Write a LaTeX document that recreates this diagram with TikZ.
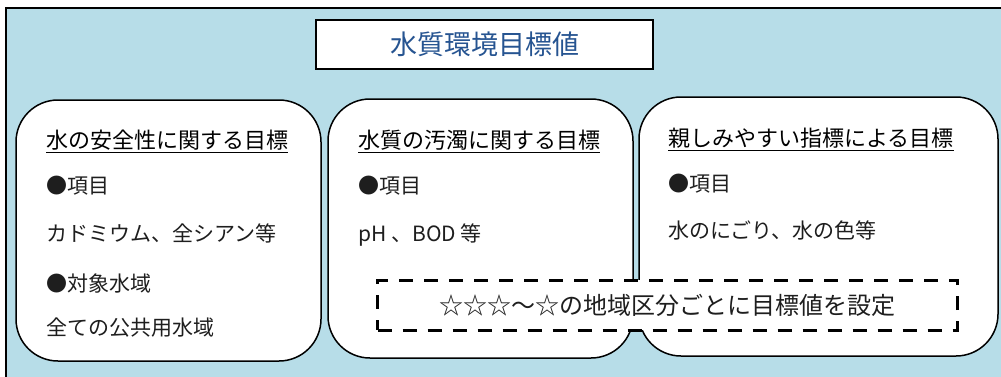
\documentclass[tikz,border=0pt]{standalone}
\usepackage{fontspec}
\setmainfont{Noto Sans CJK JP}
\definecolor{bgblue}{RGB}{183,221,232}
\definecolor{titleblue}{RGB}{38,84,145}
\definecolor{bodytext}{RGB}{30,30,30}
\tikzset{
  panel/.style={draw=black, line width=1.5pt, fill=white, rounded corners=42pt},
  heading/.style={anchor=base west, inner sep=0pt, font=\fontsize{22}{22}\selectfont, text=black},
  bodyline/.style={anchor=base west, inner sep=0pt, font=\fontsize{21}{21}\selectfont, text=bodytext},
  uline/.style={line width=1.6pt},
}
\begin{document}
\begin{tikzpicture}[x=1pt,y=-1pt]
\useasboundingbox (0,0) rectangle (1001,376);
\clip (0,0) rectangle (1001,376);
% outer frame
\draw[fill=bgblue, line width=1.5pt] (6,8) rectangle (1012,390);
% title
\node[draw=black, line width=1.5pt, fill=white, minimum width=337pt, minimum height=49pt, inner sep=0pt,
      font=\fontsize{27}{27}\selectfont, text=titleblue] (title) at (484.5,44.5) {水質環境目標値};
% panels
\draw[panel] (16,100) rectangle (321,361);
\draw[panel] (328,99) rectangle (633,358);
\draw[panel] (639,97) rectangle (998,356);
% panel 1
\node[heading] (h1) at (46,148) {水の安全性に関する目標};
\draw[uline] ([yshift=-4.5pt]h1.base west) -- ([yshift=-4.5pt]h1.base east);
\node[bodyline] (a1) at (46,193) {●項目};
\node[bodyline] (a2) at (46,241) {カドミウム、全シアン等};
\node[bodyline] (a3) at (46,291) {●対象水域};
\node[bodyline] (a4) at (46,335) {全ての公共用水域};
% panel 2
\node[heading] (h2) at (358,148) {水質の汚濁に関する目標};
\draw[uline] ([yshift=-4.5pt]h2.base west) -- ([yshift=-4.5pt]h2.base east);
\node[bodyline] (b1) at (358,193) {●項目};
\node[bodyline] (b2) at (358,241) {pH 、BOD 等};
% panel 3
\node[heading] (h3) at (668,146) {親しみやすい指標による目標};
\draw[uline] ([yshift=-4.5pt]h3.base west) -- ([yshift=-4.5pt]h3.base east);
\node[bodyline] (c1) at (668,191) {●項目};
\node[bodyline] (c2) at (668,238) {水のにごり、水の色等};
% dashed box
\node[draw=black, line width=3pt, dash pattern=on 14pt off 11pt, fill=white,
      minimum width=580pt, minimum height=50pt, inner sep=0pt,
      font=\fontsize{24}{24}\selectfont, text=bodytext] (area) at (667.5,305) {☆☆☆～☆の地域区分ごとに目標値を設定};
\end{tikzpicture}
\end{document}
